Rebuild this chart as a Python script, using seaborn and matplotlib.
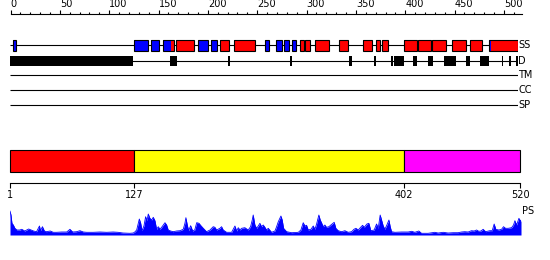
import matplotlib
matplotlib.use("Agg")
import matplotlib.pyplot as plt
from matplotlib.patches import Rectangle
import seaborn as sns

# ---------------- data ----------------
seq_len = 520
ruler_major = list(range(0, 501, 50))
ruler_minor = list(range(0, 511, 10))

track_names = ["SS", "D", "TM", "CC", "SP"]

helix_start = [164.5, 170.0, 215.0, 229.6, 296.8, 302.0, 312.0, 337.0, 361.6, 375.0,
               381.0, 403.3, 418.0, 432.2, 453.7, 470.8, 492.3]
helix_end = [167.6, 188.0, 224.5, 250.5, 300.6, 307.0, 326.8, 346.0, 370.8, 378.7,
             386.6, 416.3, 430.6, 446.3, 466.4, 482.8, 519.7]
strand_start = [2.8, 126.9, 144.6, 157.0, 192.4, 206.0, 261.3, 272.3, 280.8, 288.6,
                452.4, 490.3]
strand_end = [5.8, 141.0, 152.2, 164.5, 202.4, 211.6, 264.8, 278.4, 285.6, 292.4,
              453.7, 492.3]

disorder_start = [0.0, 164.0, 223.5, 287.0, 347.0, 373.0, 390.0, 393.5, 413.0, 428.0,
                  444.5, 466.5, 481.0, 503.5, 511.0, 518.0]
disorder_end = [126.2, 170.5, 225.0, 288.5, 350.5, 374.5, 392.0, 403.5, 416.5, 432.5,
                456.5, 471.0, 490.5, 505.0, 512.5, 520.0]

domain_start = [1, 127, 402]
domain_end = [127, 402, 520]
domain_colors = ["#ff0000", "#ffff00", "#ff00ff"]
scale_ticks = [1, 127, 402, 520]

ps_pos = [0, 1, 2, 3.4, 5, 7, 10, 12, 15, 19, 24, 27, 30, 31, 33, 35, 37, 41, 44, 47.5,
          52.6, 57.7, 61, 63.8, 67.8, 71.2, 74.6, 78, 84.7, 91.6, 98.4, 105, 110, 115,
          122, 125.4, 127, 128.9, 131.6, 133, 134.3, 136.3, 138, 139.4, 140.7, 142.4,
          144.1, 145.8, 147.5, 149.2, 150.9, 152.6, 154.3, 156, 157.7, 159.4, 161,
          163.5, 166, 169.5, 173, 176.3, 178, 179, 180.4, 181.8, 183.8, 185.9, 188,
          190, 192.3, 194.3, 196.7, 200, 203.5, 206.8, 208.5, 210.3, 213.6, 215.3, 217,
          220.4, 225.5, 228.9, 230.6, 232.3, 234, 235.7, 239, 242.4, 244.8, 246.5,
          247.5, 249.2, 251, 252.6, 254.3, 256, 257.7, 259.4, 261.1, 262.8, 266.2,
          269.6, 271.3, 273, 275.7, 277, 278.4, 281.5, 286.6, 293.4, 296, 298.4, 300.1,
          301.8, 303.5, 306.2, 308.6, 310.3, 312, 314.3, 315.7, 317, 318.7, 320.4,
          322.1, 324.5, 326.5, 329.9, 331.6, 334, 337.4, 340.8, 344.2, 347.6, 350, 352,
          354.4, 356.8, 358.8, 360.5, 363.2, 365.2, 367.2, 370.6, 373, 374.7, 376.7,
          378.1, 379.8, 381.5, 383.5, 385.6, 386.9, 388.3, 391.7, 398.5, 405.2, 408.7,
          412, 416, 418.8, 425.5, 432.3, 435.7, 440.8, 445.8, 450.9, 456, 459.4, 462.8,
          466.2, 469.6, 472.3, 474.8, 477.1, 479.2, 481.5, 484, 488.3, 490.7, 492.7,
          494.4, 497.5, 500.2, 502.2, 504.3, 507, 510.4, 512.4, 513.8, 515.5, 517.9,
          519.6, 520]
ps_val = [24, 20, 11.7, 10, 6.7, 5, 5, 5.7, 4, 6, 4, 3.3, 9, 4.3, 8.3, 4, 3.3, 4, 2.7, 2.7,
          3, 3, 5.7, 3, 3.3, 4.3, 3, 2.7, 2.7, 3, 2.7, 3, 2.7, 2,
          1.7, 2, 3, 5, 16, 11.7, 4.3, 9, 18.3, 14.3, 21, 16.7,
          15, 17.7, 14.3, 5.7, 8.3, 5.7, 7.7, 10, 12.3, 10, 5,
          4, 3.3, 4, 4.3, 5.7, 11.7, 17.3, 10, 4.3, 9.3, 4, 5,
          12.3, 11.7, 9.3, 6.7, 3.3, 5, 8.3, 7.7, 5, 6.7, 8.3, 5,
          2.7, 2.7, 9, 4, 7.3, 5, 6.7, 7.3, 5, 8.3, 15,
          20, 10, 6.7, 9, 11.7, 8.3, 10, 7.7, 5, 6.7, 2.7,
          4, 8.3, 13.3, 19, 15, 6.7, 3.3, 2.3, 2.7, 5, 12.3, 9,
          9.7, 5, 5.7, 9, 5.7, 11, 20, 15, 12.3, 8.3, 10,
          7.7, 8.3, 10, 12.7, 6.7, 4.3, 3.3, 4.3, 2.7, 3.3, 5.7, 6.7,
          5, 7.7, 9.7, 7.7, 11, 11.7, 4.3, 5, 11, 6.7, 20,
          15, 9, 5.7, 10, 15, 8.3, 3.3, 2.7, 3, 3, 3.7,
          2.7, 4, 1.7, 1.7, 2.7, 2, 2.7, 2, 2.3, 2.3, 3, 3.3,
          3, 4.3, 4, 5, 3.7, 4, 5.7, 3.3, 4.3, 4.3, 11,
          5.7, 5, 5.7, 8.3, 6.7, 6.7, 7.3, 10, 14.3, 10, 16.7,
          13.3, 15]

# ---------------- style ----------------
sns.set_theme(style="white")
plt.rcParams["font.family"] = ["DejaVu Sans"]

W, H = 550, 260
fig = plt.figure(figsize=(W / 100, H / 100), dpi=100)
fig.patch.set_facecolor("white")


def place(x0, y0, x1, y1):
    return fig.add_axes([x0 / W, 1 - y1 / H, (x1 - x0) / W, (y1 - y0) / H])


FS = 7
LW = 0.8

# ---------------- ruler ----------------
ax_r = place(10.5, 10, 521.7, 14)
ax_r.set_xlim(0, 518)
ax_r.set_ylim(0, 1)
ax_r.set_facecolor("none")
for s in ["top", "left", "right"]:
    ax_r.spines[s].set_visible(False)
ax_r.spines["bottom"].set_linewidth(LW)
ax_r.spines["bottom"].set_color("black")
ax_r.set_yticks([])
ax_r.set_xticks(ruler_major)
ax_r.set_xticks(ruler_minor, minor=True)
ax_r.set_xticklabels([str(v) for v in ruler_major])
ax_r.tick_params(axis="x", which="both", bottom=True, top=False, labelbottom=False,
                 labeltop=True, direction="in", color="black", width=LW, pad=0.5,
                 labelsize=FS, labelcolor="black")
ax_r.tick_params(axis="x", which="major", length=2.9)
ax_r.tick_params(axis="x", which="minor", length=1.5)
for lab in ax_r.get_xticklabels():
    lab.set_ha("left")

# ---------------- tracks ----------------
ax_t = place(10, 36.3, 518, 114.3)
ax_t.set_xlim(0, seq_len)
ax_t.set_ylim(4.6, -0.6)
ax_t.axis("off")
row_y = [0, 1.05, 2, 3, 4]
ax_t.hlines(row_y, 0, seq_len, color="black", lw=LW, zorder=1)
for name, y in zip(track_names, row_y):
    ax_t.text(seq_len + 0.5, y, name, ha="left", va="center", fontsize=FS,
              color="black", clip_on=False)

ss_h = 0.7
segs = [(s, e, "#ff0000") for s, e in zip(helix_start, helix_end)]
segs += [(s, e, "#0000ff") for s, e in zip(strand_start, strand_end)]
segs.sort()
for s, e, c in segs:
    ax_t.add_patch(Rectangle((s, row_y[0] - ss_h / 2), e - s, ss_h, facecolor=c,
                             edgecolor="none", lw=0, zorder=2))
groups = []
for s, e, c in segs:
    if groups and s - groups[-1][1] <= 0.6:
        groups[-1][1] = max(groups[-1][1], e)
    else:
        groups.append([s, e])
for s, e in groups:
    ax_t.add_patch(Rectangle((s, row_y[0] - ss_h / 2), e - s, ss_h, facecolor="none",
                             edgecolor="black", lw=LW, zorder=3))

d_h = 0.72
for s, e in zip(disorder_start, disorder_end):
    ax_t.add_patch(Rectangle((s, row_y[1] - d_h / 2), e - s, d_h, facecolor="black",
                             edgecolor="none", lw=0, zorder=2))

# ---------------- domain bar ----------------
ax_d = place(10, 145, 520, 177)
ax_d.set_xlim(1, seq_len)
ax_d.set_ylim(-0.75, 0.75)
ax_d.axis("off")
bars = ax_d.barh([0] * len(domain_start),
                 [e - s for s, e in zip(domain_start, domain_end)],
                 left=domain_start, height=1.0, color=domain_colors,
                 edgecolor="black", linewidth=LW)
for b in bars:
    b.set_clip_on(False)

# ---------------- domain scale ----------------
ax_s = place(10, 176, 520, 182.5)
ax_s.set_xlim(1, seq_len)
ax_s.set_ylim(0, 1)
ax_s.set_facecolor("none")
for s in ["top", "left", "right"]:
    ax_s.spines[s].set_visible(False)
ax_s.spines["bottom"].set_linewidth(LW)
ax_s.spines["bottom"].set_color("black")
ax_s.set_yticks([])
ax_s.set_xticks(scale_ticks)
ax_s.set_xticklabels([str(v) for v in scale_ticks])
ax_s.tick_params(axis="x", bottom=True, direction="out", length=3.6, width=LW,
                 color="black", pad=2, labelsize=FS, labelcolor="black")

# ---------------- PS profile ----------------
ax_p = place(10, 207, 521, 236)
ax_p.set_xlim(0, seq_len)
ax_p.set_ylim(-1, 28)
ax_p.axis("off")
ax_p.fill_between(ps_pos, 0, ps_val, color="#0000ff", lw=0)
sns.lineplot(x=ps_pos, y=ps_val, ax=ax_p, color="#0000ff", lw=0.6)
ax_p.text(seq_len + 1, 24.5, "PS", ha="left", va="center", fontsize=FS,
          color="black", clip_on=False)

fig.savefig("out.png", dpi=100, facecolor="white")
